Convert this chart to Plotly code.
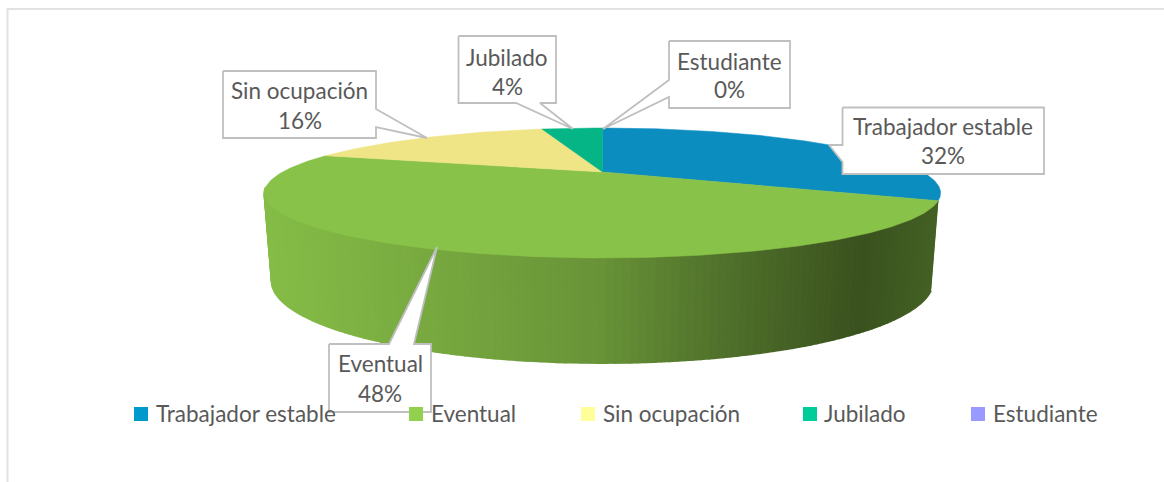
import numpy as np
import plotly.graph_objects as go

# ---------- data ----------
categories = ["Trabajador estable", "Eventual", "Sin ocupación", "Jubilado", "Estudiante"]
values = [32, 48, 16, 4, 0]

# ---------- styles ----------
top_colors = ["#0B8DC0", "#89C249", "#EFE486", "#05B585", "#9999FF"]
legend_colors = ["#0099CC", "#92D050", "#FFFF99", "#00CC99", "#9999FF"]
TEXT = "#595959"
FONT = "Lato, Carlito, sans-serif"
W, H = 1164, 482

# projected-circle geometry (pixels in the 1164x482 frame)
CX, P = 602.5, 0.323
TOP = dict(A=320.0, B=58.2, Y0=172.0)
BOT = dict(A=313.0, B=73.4, Y0=254.5)


def rim(theta, g):
    """theta: radians clockwise from the back of the pie."""
    s, c = np.sin(theta), np.cos(theta)
    w = 1 + P * c
    return CX + g["A"] * s / w, g["Y0"] - g["B"] * c / w


def shade(x):
    return np.interp(x, [270, 340, 430, 600, 700, 860, 935], [0.97, 0.93, 0.87, 0.76, 0.61, 0.42, 0.50])


def scale(hex_color, f):
    r, g, b = (int(hex_color[i:i + 2], 16) for i in (1, 3, 5))
    return f"rgb({r * f:.0f},{g * f:.0f},{b * f:.0f})"


fig = go.Figure()


def poly(xs, ys, fill, line=None, width=1):
    fig.add_trace(go.Scatter(x=list(xs), y=list(ys), mode="lines", fill="toself",
                             fillcolor=fill, line=dict(color=line or fill, width=width),
                             hoverinfo="skip", showlegend=False))


# slice boundaries in radians
edges = np.concatenate([[0], np.cumsum(values)]) / sum(values) * 2 * np.pi

# side wall: narrow strips along the visible front edge, darkened by position
for i, v in enumerate(values):
    if v == 0:
        continue
    lo, hi = max(edges[i], np.radians(115.2)), min(edges[i + 1], np.radians(256))
    if lo >= hi:
        continue
    n = max(2, int(np.degrees(hi - lo)))
    ts = np.linspace(lo, hi, n + 1)
    for a, b in zip(ts[:-1], ts[1:]):
        xa, ya = rim(np.array([a, b]), TOP)
        xb, yb = rim(np.array([b, a]), BOT)
        xs = np.r_[xa, xb]
        ys = np.r_[ya, yb]
        poly(xs, ys, scale(top_colors[i], float(shade(xs.mean()))), width=2)

# top face
for i, v in enumerate(values):
    if v == 0:
        continue
    t = np.linspace(edges[i], edges[i + 1], max(3, int(v * 5)))
    x, y = rim(t, TOP)
    ax, ay = rim(np.array([np.pi / 2]), dict(TOP, A=0.0, B=0.0))
    poly(np.r_[ax, x, ax], np.r_[ay, y, ay], top_colors[i], width=0.5)


# ---------- callouts (box + pointer, pixels) ----------
def callout(x0, x1, y0, y1, side, base, tip):
    b0, b1 = base
    if side == "right":
        xs, ys = [x0, x1, x1, tip[0], x1, x1, x0, x0], [y0, y0, b0, tip[1], b1, y1, y1, y0]
    elif side == "left":
        xs, ys = [x0, x1, x1, x0, x0, tip[0], x0, x0], [y0, y0, y1, y1, b1, tip[1], b0, y0]
    elif side == "bottom":
        xs, ys = [x0, x1, x1, b1, tip[0], b0, x0, x0], [y0, y0, y1, y1, tip[1], y1, y1, y0]
    else:
        xs, ys = [x0, b0, tip[0], b1, x1, x1, x0, x0], [y0, y0, tip[1], y0, y0, y1, y1, y0]
    poly(xs, ys, "#FFFFFF", "#BFBFBF", 1.8)


callouts = {
    "Trabajador estable": (842.5, 1044, 107.5, 174, "left", (145, 162), (829, 145), 126, 155),
    "Eventual": (329, 431, 344, 412, "top", (389, 414), (437, 247), 363, 393),
    "Sin ocupación": (223, 376, 71, 138, "right", (109, 127), (427, 138), 90, 120),
    "Jubilado": (458.5, 556, 36, 103, "bottom", (516, 540), (573, 129), 57, 86),
    "Estudiante": (669, 790, 41, 108, "left", (80, 97), (603, 129), 61, 89),
}
annotations = []
for name, v in zip(categories, values):
    x0, x1, y0, y1, side, base, tip, t1, t2 = callouts[name]
    callout(x0, x1, y0, y1, side, base, tip)
    for txt, yy in ((name, t1), (f"{v}%", t2)):
        annotations.append(dict(x=(x0 + x1) / 2, y=yy, text=txt, showarrow=False, xref="x", yref="y",
                                xanchor="center", yanchor="middle",
                                font=dict(family=FONT, size=22.5, color=TEXT)))

# ---------- legend row ----------
legend_swatch_x = [141, 416, 588, 810, 978]
legend_text_x = [154, 429, 601, 822, 991]
fig.add_trace(go.Scatter(x=legend_swatch_x, y=[414] * 5, mode="markers",
                         marker=dict(symbol="square", size=14, color=legend_colors, line=dict(width=0)),
                         hoverinfo="skip", showlegend=False))
for name, tx in zip(categories, legend_text_x):
    annotations.append(dict(x=tx, y=413, text=name, showarrow=False, xref="x", yref="y",
                            xanchor="left", yanchor="middle",
                            font=dict(family=FONT, size=22.5, color=TEXT)))

fig.update_layout(
    width=W, height=H, margin=dict(l=0, r=0, t=0, b=0), autosize=False,
    paper_bgcolor="white", plot_bgcolor="white", showlegend=False,
    xaxis=dict(range=[0, W], visible=False, fixedrange=True),
    yaxis=dict(range=[H, 0], visible=False, fixedrange=True),
    annotations=annotations,
    shapes=[dict(type="path", path=f"M 7.5 {H} L 7.5 9 L {W} 9", xref="x", yref="y",
                 line=dict(color="#E2E2E2", width=2), layer="below")],
)
fig.write_html("out.html", config={"displayModeBar": False},
               post_script="document.body.style.margin='0';document.body.style.overflow='hidden';")
